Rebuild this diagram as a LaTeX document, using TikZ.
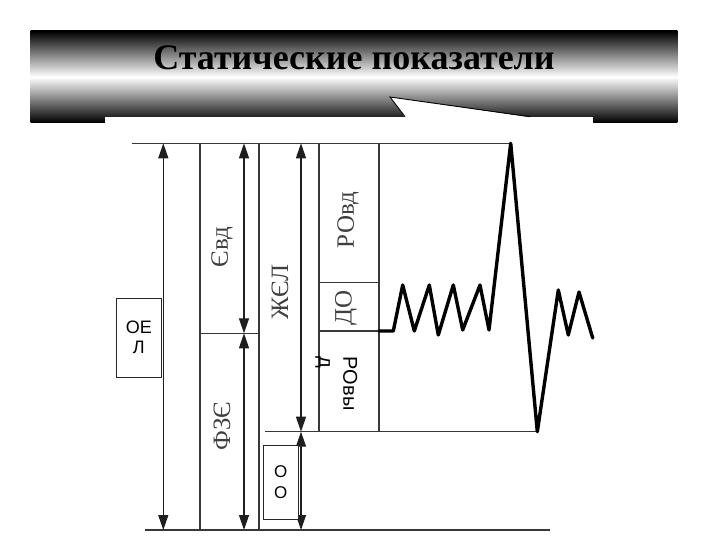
\documentclass[tikz,border=0pt]{standalone}
\usepackage{fontspec}
\setmainfont{Liberation Serif}
\newfontfamily\arialf{Liberation Sans}
\usetikzlibrary{arrows.meta}
\pgfdeclareverticalshading{bannershade}{100bp}{color(0bp)=(black); color(25bp)=(black); color(50bp)=(white); color(75bp)=(black); color(100bp)=(black)}
\begin{document}
\begin{tikzpicture}[x=1pt,y=-1pt,
  chart/.style={draw=black!78, line width=1.3pt},
  dimarrow/.style={draw=black!88, line width=1.3pt, {Triangle[length=15pt,width=10pt]}-{Triangle[length=15pt,width=10pt]}},
  serlab/.style={text=black!75, font=\fontsize{25}{28}\selectfont, rotate=90, inner sep=0pt},
  sanbox/.style={draw=black!85, line width=0.8pt, fill=white, align=center, inner sep=0pt},
  wave/.style={draw=black, line width=3.4pt, line join=round, line cap=round}]
\useasboundingbox (0,0) rectangle (720,540);
% banner
\shade[shading=bannershade] (30.7,31) rectangle (677.3,122.7);
\fill[white] (105,116.7) rectangle (592.7,124);
\fill[white] (390,97) -- (405,117.2) -- (530,117.2) -- cycle;
\draw[black, line width=0.9pt] (405,116.7) -- (390,97) -- (530,116.7);
\node[font=\bfseries\fontsize{36}{40}\selectfont, anchor=base] (title) at (354,70) {Статические показатели};
% key coordinates
\coordinate (tl) at (132,143.3);
\coordinate (tr) at (510.7,143.3);
\coordinate (bl) at (145,530);
\coordinate (br) at (550,530);
\coordinate (ml) at (265,431.7);
\coordinate (mr) at (537.3,431.7);
\coordinate (c1t) at (200,143.3); \coordinate (c1b) at (200,530);
\coordinate (c2t) at (259,143.3); \coordinate (c2b) at (259,530);
\coordinate (c3t) at (319,143.3); \coordinate (c3b) at (319,431.7);
\coordinate (c4t) at (379,143.3); \coordinate (c4b) at (379,431.7);
\coordinate (h1l) at (200,333.3); \coordinate (h1r) at (259,333.3);
\coordinate (h2l) at (319,282.3); \coordinate (h2r) at (379,282.3);
\coordinate (h3l) at (319,331); \coordinate (h3r) at (379,331);
% lines
\draw[chart] (tl) -- (tr);
\draw[chart] (bl) -- (br);
\draw[chart] (ml) -- (mr);
\draw[chart] (c1t) -- (c1b);
\draw[chart] (c2t) -- (c2b);
\draw[chart] (c3t) -- (c3b);
\draw[chart] (c4t) -- (c4b);
\draw[chart] (h1l) -- (h1r);
\draw[chart] (h2l) -- (h2r);
\draw[chart] (h3l) -- (h3r);
% dimension arrows
\coordinate (a1t) at (163.3,143.3); \coordinate (a1b) at (163.3,530);
\coordinate (a2t) at (244,143.3); \coordinate (a2m) at (244,333.3); \coordinate (a2b) at (244,530);
\coordinate (a3t) at (301,143.3); \coordinate (a3m) at (301,431.7); \coordinate (a3b) at (301,530);
\draw[dimarrow] (a1t) -- (a1b);
\draw[dimarrow] (a2t) -- (a2m);
\draw[dimarrow] (a2m) -- (a2b);
\draw[dimarrow] (a3t) -- (a3m);
\draw[dimarrow] (a3m) -- (a3b);
% wave
\draw[wave] (h3r) -- (393.3,331) -- (402.7,285) -- (414.3,331) -- (429.3,285) -- (438.3,335)
  -- (453.3,285) -- (462.7,330) -- (480,285) -- (489,330) -- (tr) -- (mr)
  -- (558.3,290) -- (568.3,335) -- (579,292) -- (592.7,338);
% serif labels
\node[serlab] (evd) at (222,247) {Євд};
\node[serlab] (fze) at (222,426) {ФЗЄ};
\node[serlab] (zhel) at (280,292) {ЖЄЛ};
\node[serlab] (rovd) at (348,220) {РОвд};
\node[serlab] (do) at (346,308) {ДО};
% sans boxes
\node[sanbox, minimum width=45.7pt, minimum height=79pt, font=\arialf\fontsize{18}{20}\selectfont] (oel) at (138.9,337.7) {ОЕ\\Л};
\node[sanbox, minimum width=35pt, minimum height=73.6pt, font=\arialf\fontsize{17}{21}\selectfont] (oo) at (280.8,482.5) {О\\О};
\node[rotate=-90, anchor=north west, align=left, inner sep=0pt, font=\arialf\fontsize{20}{24}\selectfont] (rovyd) at (357.5,356.7) {РОвы\\д};
\end{tikzpicture}
\end{document}
